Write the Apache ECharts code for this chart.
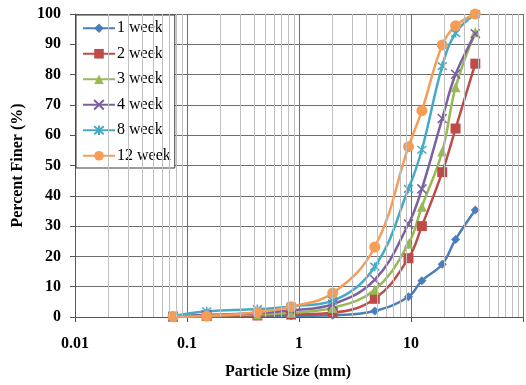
<!DOCTYPE html>
<html>
<head>
<meta charset="utf-8">
<script src="https://cdn.jsdelivr.net/npm/echarts@6/dist/echarts.min.js"></script>
<style>html,body{margin:0;padding:0;background:#fff;}#c{width:526px;height:385px;}</style>
</head>
<body>
<div id="c"></div>
<script>
// Sieve sizes (mm)
var sizes = [0.075, 0.15, 0.425, 0.85, 2.0, 4.75, 9.5, 12.5, 19.0, 25.0, 37.5];
var seriesNames = ['1 week', '2 week', '3 week', '4 week', '8 week', '12 week'];
var week1  = [0.1, 0.2, 0.3, 0.4, 0.6, 2.0, 6.7, 12.0, 17.4, 25.6, 35.3];
var week2  = [0.1, 0.3, 0.5, 0.8, 1.4, 6.0, 19.4, 30.0, 47.8, 62.2, 83.6];
var week3  = [0.2, 0.5, 0.8, 1.4, 3.0, 9.0, 24.2, 36.4, 54.6, 75.8, 94.0];
var week4  = [0.2, 0.7, 1.2, 2.2, 4.2, 12.3, 30.7, 42.3, 65.5, 80.1, 93.5];
var week8  = [0.3, 1.9, 2.6, 3.5, 5.4, 16.6, 42.3, 55.2, 82.8, 93.7, 100];
var week12 = [0.1, 0.3, 1.6, 3.4, 7.9, 23.1, 56.2, 68.1, 89.8, 96.1, 100];
var yTicks = [0, 10, 20, 30, 40, 50, 60, 70, 80, 90, 100];
var xDecades = [0.01, 0.1, 1, 10];

var colors = ['#4A7EBB', '#BE4B48', '#98B954', '#7D60A0', '#46AAC5', '#F59D56'];
var symbols = [
  'diamond', 'rect', 'triangle',
  'path://M0,0L10,10M10,0L0,10',
  'path://M0,0L10,10M10,0L0,10M5,-1L5,11',
  'circle'
];
var symSizes = [9, 10, 10, 9, 9, 11];
var allData = [week1, week2, week3, week4, week8, week12];

function pairs(vals) { return sizes.map(function (s, i) { return [s, vals[i]]; }); }

// minor vertical gridlines at 2..9 within each decade
var minorLines = [];
xDecades.forEach(function (d) {
  for (var m = 2; m <= 9; m++) minorLines.push({ xAxis: +(d * m).toPrecision(3) });
});

var FONT = "'Liberation Serif', 'Times New Roman', serif";

var series = [{
  type: 'line', data: [], z: 1, silent: true,
  markLine: {
    silent: true, symbol: ['none', 'none'], animation: false,
    label: { show: false },
    lineStyle: { color: '#c0c0c0', width: 1, type: 'solid' },
    emphasis: { disabled: true },
    data: minorLines
  }
}];
allData.forEach(function (vals, i) {
  var isPath = i === 3 || i === 4;
  series.push({
    name: seriesNames[i],
    type: 'line',
    data: pairs(vals),
    smooth: 0.4,
    z: 3,
    symbol: symbols[i],
    symbolSize: symSizes[i],
    lineStyle: { color: colors[i], width: 2.5 },
    itemStyle: isPath ? { color: colors[i], borderColor: colors[i], borderWidth: 1.6 } : { color: colors[i], borderWidth: 0 }
  });
});

var chart = echarts.init(document.getElementById('c'), null, { renderer: 'canvas' });
chart.setOption({
  animation: false,
  backgroundColor: '#ffffff',
  grid: { left: 75, top: 14, bottom: 64, width: 454, containLabel: false },
  legend: {
    data: seriesNames,
    orient: 'vertical',
    left: 76, top: 15,
    backgroundColor: '#ffffff',
    borderColor: '#3a3a3a', borderWidth: 1,
    padding: [5, 4, 4, 6],
    itemWidth: 32, itemHeight: 12,
    itemGap: 9,
    textStyle: { fontFamily: FONT, fontSize: 16, color: '#000', lineHeight: 16.5, padding: [0, 0, 0, -3] }
  },
  xAxis: {
    type: 'log', logBase: 10, min: 0.01, max: 100,
    name: 'Particle Size (mm)', nameLocation: 'middle', nameGap: 47,
    nameTextStyle: { fontFamily: FONT, fontSize: 16, fontWeight: 'bold', color: '#000', padding: [0, 22, 0, 0] },
    axisLine: { show: true, lineStyle: { color: '#555', width: 1 } },
    axisTick: { show: true, length: 5, lineStyle: { color: '#555' } },
    axisLabel: {
      fontFamily: FONT, fontSize: 16, fontWeight: 'bold', color: '#000', margin: 19,
      formatter: function (v) { return v >= 100 ? '' : String(+v.toPrecision(3)); }
    },
    splitLine: { show: true, lineStyle: { color: '#6e6e6e', width: 1 } }
  },
  yAxis: {
    type: 'value', min: 0, max: 100, interval: 10,
    name: 'Percent Finer (%)', nameLocation: 'middle', nameGap: 49,
    nameTextStyle: { fontFamily: FONT, fontSize: 16, fontWeight: 'bold', color: '#000' },
    axisLine: { show: true, lineStyle: { color: '#555', width: 1 } },
    axisTick: { show: true, length: 5, lineStyle: { color: '#555' } },
    axisLabel: {
      fontFamily: FONT, fontSize: 16, fontWeight: 'bold', color: '#000', margin: 14,
      formatter: function (v) { return yTicks.indexOf(v) >= 0 ? String(v) : ''; }
    },
    splitLine: { show: true, lineStyle: { color: '#6e6e6e', width: 1 } }
  },
  series: series
});
</script>
</body>
</html>
